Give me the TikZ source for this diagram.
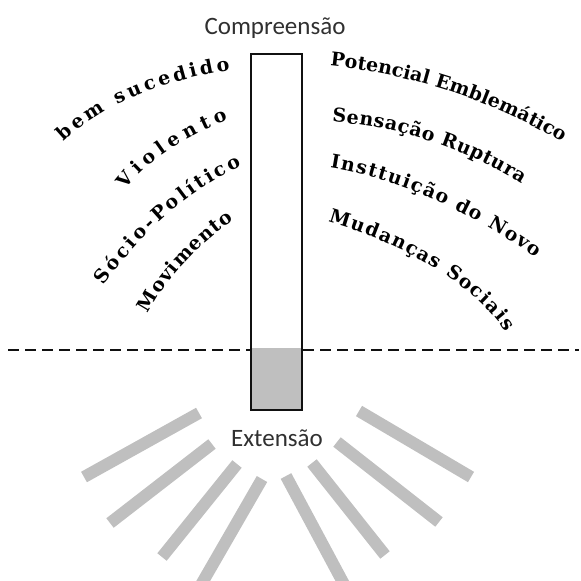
\documentclass[tikz,border=0pt]{standalone}
\usepackage{fontspec}
\usepackage{tikz}
\usetikzlibrary{decorations.text,calc}
\newfontfamily\wordfont{DejaVu Serif}
\newfontfamily\capfont{Carlito}
\definecolor{cBar}{HTML}{BFBFBF}
\definecolor{cInk}{HTML}{111111}
\definecolor{cCap}{HTML}{303030}
\newcommand{\wordsize}{\wordfont\bfseries\fontsize{19}{19}\selectfont}
\tikzset{
  ray/.style    ={line width=12pt,cBar},
  cutline/.style={line width=1.8pt,cInk,dash pattern=on 11pt off 6pt},
  axislbl/.style={font=\capfont\fontsize{25}{25}\selectfont,text=cCap,inner sep=0pt},
  column/.style ={draw=cInk,line width=2pt,minimum width=51pt,minimum height=356pt,
                  inner sep=0pt},
  word/.style   ={decorate,decoration={text along path,text={|\wordsize|#1},
                  text align={fit to path}}},
}

\begin{document}
\begin{tikzpicture}[x=1pt,y=-1pt]
\useasboundingbox (0,0) rectangle (581,581);
% the column, filled at its foot
\node[column,path picture={\fill[cBar] (path picture bounding box.south west)
      rectangle ([yshift=62pt]path picture bounding box.south east);}]
      (col) at (276.5,232) {};
\node[axislbl,anchor=base] (comp) at (275,34) {Compreensão};
\node[axislbl,anchor=base] (ext) at (277,446) {Extensão};
% the cut line
\coordinate (dl) at (8,350);
\coordinate (dr) at (579,350);
\draw[cutline] (dl) -- (dl -| col.west);
\draw[cutline] (col.east |- dr) -- (dr);
% rays under the column
\foreach \xa/\ya/\xb/\yb in {199/413/84/477, 212/444/110/523, 237/464/162/557,
    262/479/198/590, 286/476/346/588, 312/463/385/555, 337/442/439/522, 359/411/471/477}
  \draw[ray] (\xa,\ya) -- (\xb,\yb);
% words on the left
\path[word={bem sucedido}]   (64,142) .. controls (104,104) and (164,80) .. (230,70);
\path[word={Violento}]       (126,190) .. controls (143,166) and (180,138) .. (228,120);
\path[word={Sócio-Político}] (104,286) .. controls (140,234) and (186,192) .. (242,166);
\path[word={Movimento}]      (148,314) .. controls (166,280) and (196,246) .. (234,220);
% words on the right
\path[word={Potencial Emblemático}] (330,66) .. controls (410,74) and (490,100) .. (562,142);
\path[word={Sensação Ruptura}]      (332,122) .. controls (394,126) and (460,146) .. (522,184);
\path[word={Insttuição do Novo}]    (330,168) .. controls (393,178) and (465,208) .. (536,258);
\path[word={Mudanças Sociais}]      (328,222) .. controls (390,240) and (468,276) .. (506,332);
\end{tikzpicture}
\end{document}
